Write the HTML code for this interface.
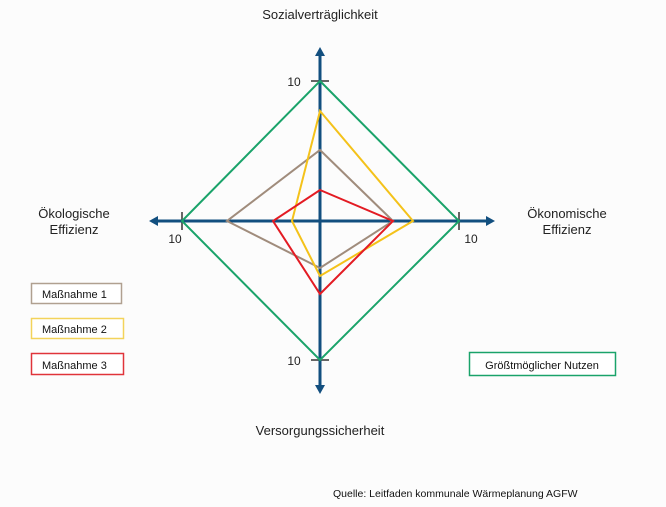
<!DOCTYPE html>
<html><head><meta charset="utf-8"><style>
html,body{margin:0;padding:0;background:#fcfcfc;}
svg{display:block;font-family:"Liberation Sans",sans-serif;}
</style></head><body>
<svg width="666" height="507" viewBox="0 0 666 507" xmlns="http://www.w3.org/2000/svg">
<rect width="666" height="507" fill="#fcfcfc"/>
<text x="320" y="19" font-size="13" text-anchor="middle" fill="#222">Sozialverträglichkeit</text>
<text x="320" y="435" font-size="13" text-anchor="middle" fill="#222">Versorgungssicherheit</text>
<text x="74" y="218" font-size="13" text-anchor="middle" fill="#222">Ökologische</text>
<text x="74" y="234" font-size="13" text-anchor="middle" fill="#222">Effizienz</text>
<text x="567" y="218" font-size="13" text-anchor="middle" fill="#222">Ökonomische</text>
<text x="567" y="234" font-size="13" text-anchor="middle" fill="#222">Effizienz</text>
<!-- ticks -->
<g stroke="#666" stroke-width="2">
<line x1="311" y1="81" x2="329" y2="81"/>
<line x1="311" y1="360" x2="329" y2="360"/>
<line x1="182" y1="212" x2="182" y2="230"/>
<line x1="459" y1="212" x2="459" y2="230"/>
</g>
<!-- axes -->
<g stroke="#124f7f" stroke-width="3">
<line x1="320" y1="54" x2="320" y2="387"/>
<line x1="156" y1="221" x2="488" y2="221"/>
</g>
<g fill="#124f7f">
<polygon points="320,47 315,56 325,56"/>
<polygon points="320,394 315,385 325,385"/>
<polygon points="149,221 158,216 158,226"/>
<polygon points="495,221 486,216 486,226"/>
</g>
<g fill="none" stroke-width="2" stroke-linejoin="miter">
<polygon points="320,81 459,221 320,360 182,221" stroke="#1aa36a"/>
<polygon points="320,150 393,221 320,268 227,221" stroke="#a08c7c"/>
<polygon points="320,111 413,221 320,276 292,221" stroke="#f4c21a"/>
<polygon points="320,190 393,221 320,294 273,221" stroke="#e31b23"/>
</g>
<g font-size="12" fill="#222">
<text x="294" y="86" text-anchor="middle">10</text>
<text x="294" y="365" text-anchor="middle">10</text>
<text x="175" y="243" text-anchor="middle">10</text>
<text x="471" y="243" text-anchor="middle">10</text>
</g>
<g fill="#fff" stroke-width="1.5">
<rect x="31.5" y="283.5" width="90" height="20" stroke="#b0a090"/>
<rect x="31.5" y="318.5" width="92" height="20" stroke="#f3d35a"/>
<rect x="31.5" y="353.5" width="92" height="21" stroke="#e0343a"/>
<rect x="469.5" y="352.5" width="146" height="23" stroke="#1aa36a"/>
</g>
<g font-size="11" fill="#111">
<text x="42" y="298">Maßnahme 1</text>
<text x="42" y="333">Maßnahme 2</text>
<text x="42" y="369">Maßnahme 3</text>
<text x="542" y="369" text-anchor="middle">Größtmöglicher Nutzen</text>
<text x="333" y="497" font-size="10.5">Quelle: Leitfaden kommunale Wärmeplanung AGFW</text>
</g>
</svg>
</body></html>
